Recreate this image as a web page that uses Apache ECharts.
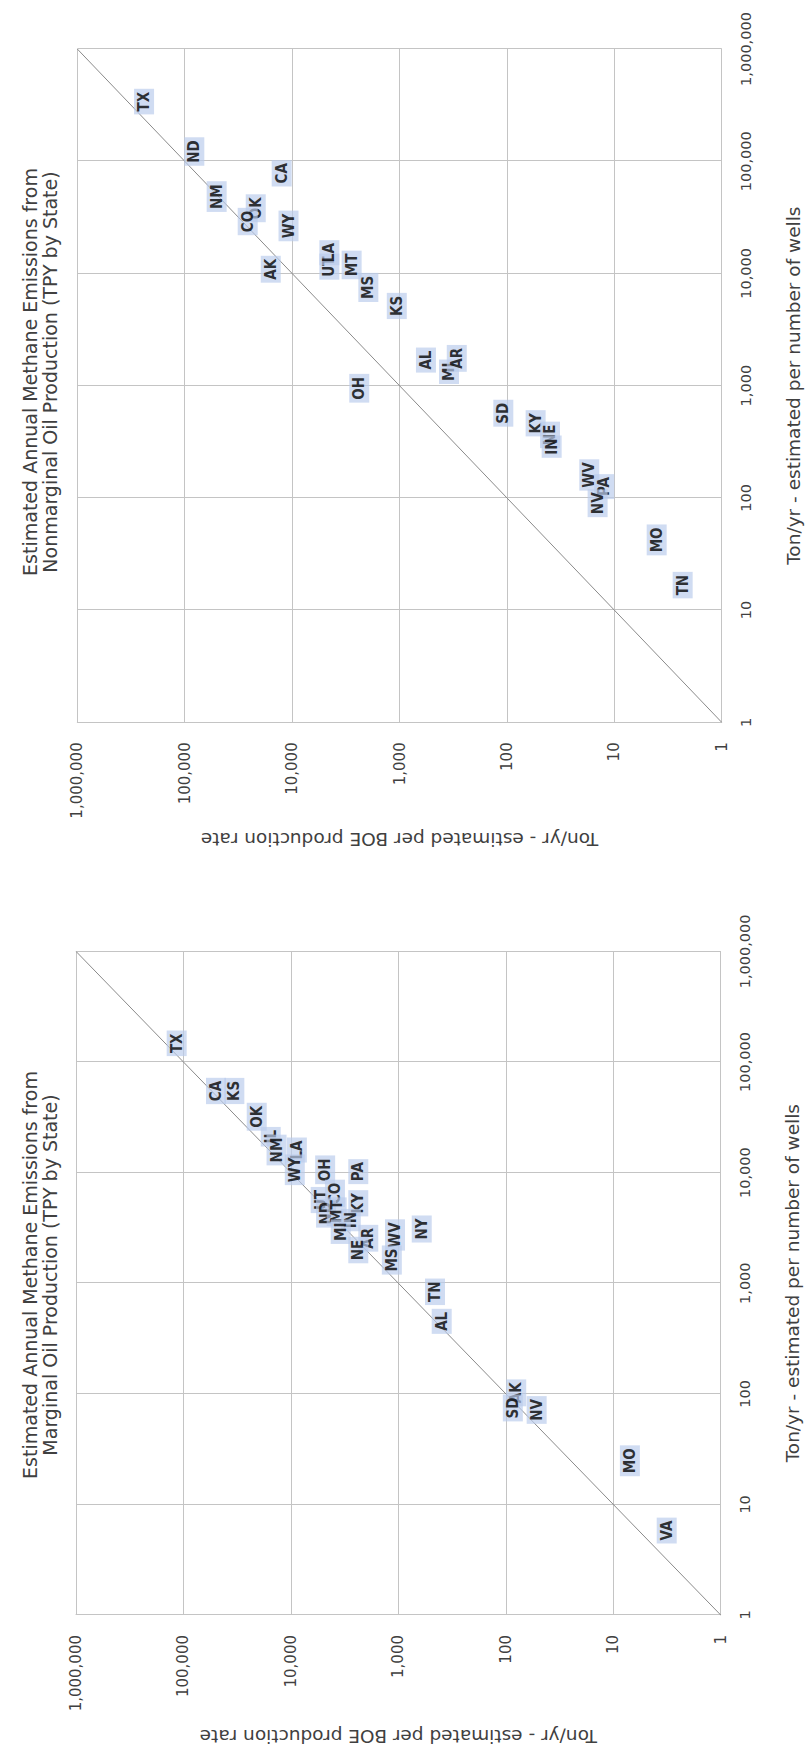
<!DOCTYPE html>
<html>
<head>
<meta charset="utf-8">
<script src="https://cdn.jsdelivr.net/npm/echarts@6/dist/echarts.min.js"></script>
<style>
html,body{margin:0;padding:0;background:#fff;width:808px;height:1754px;overflow:hidden;}
.wrap{position:absolute;left:0;width:808px;height:877px;overflow:hidden;}
.chart{position:absolute;left:0;top:0;width:877px;height:808px;transform-origin:0 0;
  transform:translate(0,877px) rotate(-90deg);}
</style>
</head>
<body>
<div class="wrap" style="top:0px"><div id="c1" class="chart"></div></div>
<div class="wrap" style="top:877px"><div id="c2" class="chart"></div></div>
<script>
// ---- Data ----
const tickValues = [1, 10, 100, 1000, 10000, 100000, 1000000];

const nonmarginalTitle = 'Estimated Annual Methane Emissions from\nNonmarginal Oil Production (TPY by State)';
const nonmarginalStates = ['TX','ND','CA','NM','OK','CO','WY','AK','UT','LA','MT','MS','KS','OH','AL','MI','AR','SD','KY','NE','IN','WV','PA','NV','MO','TN'];
const nonmarginalPerWells = [340000,122000,78000,48400,38100,29000,26500,10900,11500,15300,11900,7500,5130,948,1690,1330,1750,568,462,364,286,160,126,89.5,42.2,16.7];
const nonmarginalPerBOE = [239000,81400,12500,50400,21800,25900,10800,15800,4500,4500,2790,1950,1060,2370,567,346,293,108,54,39.7,38.3,17.1,12.4,14.3,4.03,2.31];

const marginalTitle = 'Estimated Annual Methane Emissions from\nMarginal Oil Production (TPY by State)';
const marginalStates = ['TX','CA','KS','OK','IL','NM','LA','WY','OH','PA','UT','CO','ND','MT','KY','IN','MI','AR','NE','WV','NY','MS','TN','AL','AK','SD','NV','MO','VA'];
const marginalPerWells = [147600,54700,54700,32000,21100,16000,16000,10600,10600,10200,5650,6490,4280,4430,5280,3720,2920,2550,1995,2730,3090,1620,836,452,102,74.5,71.4,24.8,5.8];
const marginalPerBOE = [115600,49800,33600,20800,15400,13600,8800,9200,4800,2360,5280,3890,4710,3750,2360,2770,3440,1905,2360,1075,606,1150,456,395,80,86,51.6,7.0,3.18];

const xAxisTitle = 'Ton/yr - estimated per number of wells';
const yAxisTitle = 'Ton/yr - estimated per BOE production rate';

// ---- Chart ----
const GRID = '#c4c4c4';
const TEXT = '#404040';
const FONT = 'DejaVu Sans';

function fmt(v) { return Number(v).toLocaleString('en-US'); }

function makeOption(cfg) {
  const pts = cfg.states.map((s, i) => ({ name: s, value: [cfg.x[i], cfg.y[i]] }));
  const axisCommon = {
    type: 'log', logBase: 10,
    min: tickValues[0], max: tickValues[tickValues.length - 1],
    axisLine: { show: true, lineStyle: { color: GRID, width: 1 } },
    axisTick: { show: false },
    splitLine: { show: true, lineStyle: { color: GRID, width: 1 } },
    nameLocation: 'middle',
    nameTextStyle: { fontFamily: FONT, fontSize: 18.5, color: TEXT }
  };
  return {
    animation: false,
    backgroundColor: '#fff',
    title: {
      text: cfg.title,
      left: cfg.titleX, top: 15, textAlign: 'center',
      textStyle: { fontFamily: FONT, fontSize: 19, fontWeight: 'normal', color: TEXT, lineHeight: 20 }
    },
    grid: cfg.grid,
    xAxis: Object.assign({}, axisCommon, {
      name: xAxisTitle, nameGap: 62,
      axisLabel: { formatter: fmt, fontFamily: FONT, fontSize: 14.5, color: TEXT, margin: 17 }
    }),
    yAxis: Object.assign({}, axisCommon, {
      name: yAxisTitle, nameGap: cfg.yNameGap,
      axisLabel: { formatter: fmt, fontFamily: FONT, fontSize: 15, color: TEXT, margin: 20 }
    }),
    series: [
      {
        type: 'line',
        data: [[tickValues[0], tickValues[0]], [tickValues[tickValues.length - 1], tickValues[tickValues.length - 1]]],
        showSymbol: false, symbol: 'none',
        lineStyle: { color: '#8a8a8a', width: 1 },
        silent: true, z: 1
      },
      {
        type: 'scatter',
        data: pts,
        symbolSize: 1,
        itemStyle: { color: 'rgba(0,0,0,0)' },
        z: 3,
        label: {
          show: true, position: 'inside', formatter: '{b}',
          fontFamily: '"Liberation Sans Narrow", "DejaVu Sans Condensed", "Liberation Sans", sans-serif',
          fontWeight: 'bold', fontSize: 15, color: '#000',
          backgroundColor: 'rgba(186,204,236,0.85)', padding: [3, 3, 2, 3]
        },
        labelLayout: { hideOverlap: false }
      }
    ]
  };
}

const c1 = echarts.init(document.getElementById('c1'), null, { renderer: 'svg', width: 877, height: 808 });
c1.setOption(makeOption({
  title: nonmarginalTitle, states: nonmarginalStates, x: nonmarginalPerWells, y: nonmarginalPerBOE,
  grid: { left: 154.7, right: 49, top: 77.3, bottom: 86.3 },
  titleX: 500, yNameGap: 108
}));

const c2 = echarts.init(document.getElementById('c2'), null, { renderer: 'svg', width: 877, height: 808 });
c2.setOption(makeOption({
  title: marginalTitle, states: marginalStates, x: marginalPerWells, y: marginalPerBOE,
  grid: { left: 139, right: 74.4, top: 76, bottom: 87.3 },
  titleX: 474, yNameGap: 112
}));
</script>
</body>
</html>
